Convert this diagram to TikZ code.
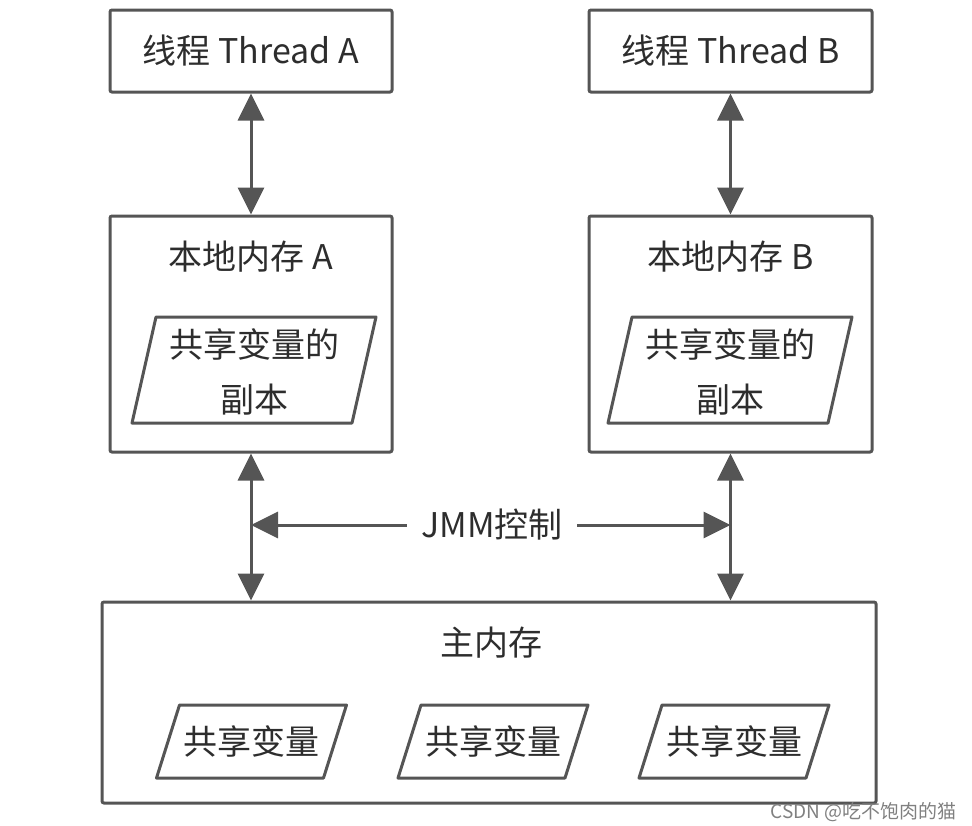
\documentclass[tikz,border=0pt]{standalone}
\usepackage{fontspec}
\setmainfont{Noto Sans CJK SC}
\usepackage{xcolor}
\usetikzlibrary{
    arrows.meta,
    positioning
}
\definecolor{linegray}{RGB}{85,85,85}
\definecolor{textgray}{RGB}{45,45,45}
\tikzset{
    box/.style={draw=linegray, line width=1.5pt, rounded corners=1pt, inner sep=0pt,
        text=textgray, font=\fontsize{17pt}{20pt}\selectfont},
    title/.style={text=textgray, font=\fontsize{17pt}{20pt}\selectfont, inner sep=0pt},
    copytext/.style={text=textgray, align=center, inner sep=0pt,
        font=\fontsize{17pt}{27.5pt}\selectfont},
    parabox/.style={draw=linegray, line width=1.5pt, line join=round},
    tip/.tip={Triangle[length=13.5pt, width=13pt]},
    biarrow/.style={draw=linegray, line width=1.5pt, tip-tip},
    onearrow/.style={draw=linegray, line width=1.5pt, -tip}
}

\begin{document}
\begin{tikzpicture}[x=0.5pt, y=-0.5pt]
    \useasboundingbox (0, 0) rectangle (972, 825);
    \node[box, minimum width=141pt, minimum height=41pt] (thrA) at (251, 51) {线程 Thread A};
    \node[box, minimum width=141.5pt, minimum height=41pt] (thrB) at (730.5, 51) {线程 Thread B};
    \node[box, minimum width=141pt, minimum height=118pt] (locA) at (251, 334) {};
    \node[box, minimum width=141.5pt, minimum height=118pt] (locB) at (730.5, 334) {};
    \node[title] (titA) at (251, 257) {本地内存 A};
    \node[title] (titB) at (730.5, 257) {本地内存 B};
    \foreach \name/\xpos in {copyA/254, copyB/730} {
        \node[copytext] (\name) at (\xpos, 372) {共享变量的\\副本};
        \draw[parabox] (\name) ++(-98, -55) -- ++(220, 0) -- ++(-24, 106) -- ++(-220, 0) -- cycle;
    }
    \node[box, minimum width=387pt, minimum height=100.5pt] (main) at (489, 702.5) {};
    \node[title] (titMain) at (491, 643) {主内存};
    \foreach \name/\xpos in {varA/251.5, varB/493, varC/734} {
        \node[copytext] (\name) at (\xpos, 741.5) {共享变量};
        \draw[parabox] (\name) ++(-72, -36.5) -- ++(167, 0) -- ++(-23, 73) -- ++(-167, 0) -- cycle;
    }
    \node[title, inner xsep=7pt] (jmm) at (492, 525) {JMM控制};
    \draw[biarrow] (thrA) -- (locA);
    \draw[biarrow] (thrB) -- (locB);
    \draw[biarrow] (locA) -- (locA |- main.north);
    \draw[biarrow] (locB) -- (locB |- main.north);
    \draw[onearrow] (jmm) -- (jmm -| locA.south);
    \draw[onearrow] (jmm) -- (jmm -| locB.south);
    \node[anchor=east, inner sep=0pt, text=gray, font=\fontsize{9.5pt}{11pt}\selectfont] (mark) at (957, 812) {CSDN @吃不饱肉的猫};
\end{tikzpicture}
\end{document}
